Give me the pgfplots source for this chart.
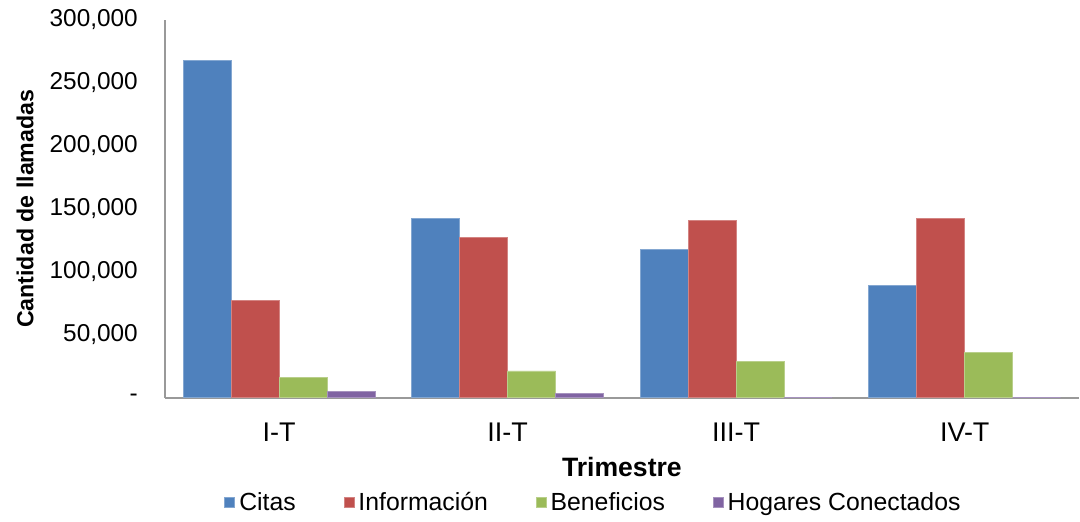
\documentclass[border=0pt]{standalone}
\usepackage{pgfplots}
\pgfplotsset{compat=1.18}
\usepackage{fontspec}
\setmainfont{Liberation Sans}
\definecolor{cBlue}{HTML}{4F81BD}
\definecolor{cRed}{HTML}{C0504D}
\definecolor{cGreen}{HTML}{9BBB59}
\definecolor{cPurple}{HTML}{8064A2}
\begin{document}
\begin{tikzpicture}
\begin{axis}[
  scale only axis,
  width=457.5pt, height=189pt,
  ybar=0pt, bar width=24pt,
  xmin=-0.5, xmax=3.5,
  ymin=0, ymax=300000,
  scaled ticks=false,
  xtick={0,1,2,3},
  xticklabels={I-T,II-T,III-T,IV-T},
  ytick={0,50000,100000,150000,200000,250000,300000},
  yticklabels={-,{50,000},{100,000},{150,000},{200,000},{250,000},{300,000}},
  axis x line*=bottom, axis y line*=left,
  axis line style={draw=gray!80, line width=1pt},
  x axis line style={-}, y axis line style={-},
  tick style={draw=none},
  tick label style={font=\fontsize{12.2}{14}\selectfont},
  yticklabel style={xshift=-10pt},
  xticklabel style={font=\fontsize{13.5}{15}\selectfont, anchor=center, yshift=-13pt},
  xlabel={\textbf{Trimestre}},
  xlabel style={font=\fontsize{13.3}{15}\selectfont, at={(axis description cs:0.5,0)}, anchor=center, yshift=-34.5pt},
  ylabel={\textbf{Cantidad de llamadas}},
  ylabel style={font=\fontsize{11.6}{13}\selectfont, at={(axis description cs:0,0.5)}, anchor=center, yshift=70pt},
  legend style={at={(0.47,-0.2778)}, anchor=center, draw=none,
    legend columns=4, font=\fontsize{12.4}{14}\selectfont,
    /tikz/every even column/.append style={column sep=22pt}},
  legend image code/.code={\fill[#1] (0pt,-2.5pt) rectangle (5pt,2.5pt);},
  /pgf/number format/assume math mode=true,
]
\addplot[fill=cBlue, draw=cBlue!70!white] coordinates {(0,267500) (1,142300) (2,117700) (3,89200)};
\addlegendentry{Citas}
\addplot[fill=cRed, draw=cRed!70!white] coordinates {(0,77300) (1,127200) (2,140700) (3,142300)};
\addlegendentry{Información}
\addplot[fill=cGreen, draw=cGreen!70!white] coordinates {(0,16000) (1,21200) (2,28700) (3,36000)};
\addlegendentry{Beneficios}
\addplot[fill=cPurple, draw=cPurple!70!white] coordinates {(0,4600) (1,3300) (2,0) (3,0)};
\addlegendentry{Hogares Conectados}
\end{axis}
\path (current axis.south west) ++(-82.5pt,-59.5pt) coordinate (bbA);
\path (current axis.north east) ++(0pt,10pt) coordinate (bbB);
\end{tikzpicture}
\end{document}
